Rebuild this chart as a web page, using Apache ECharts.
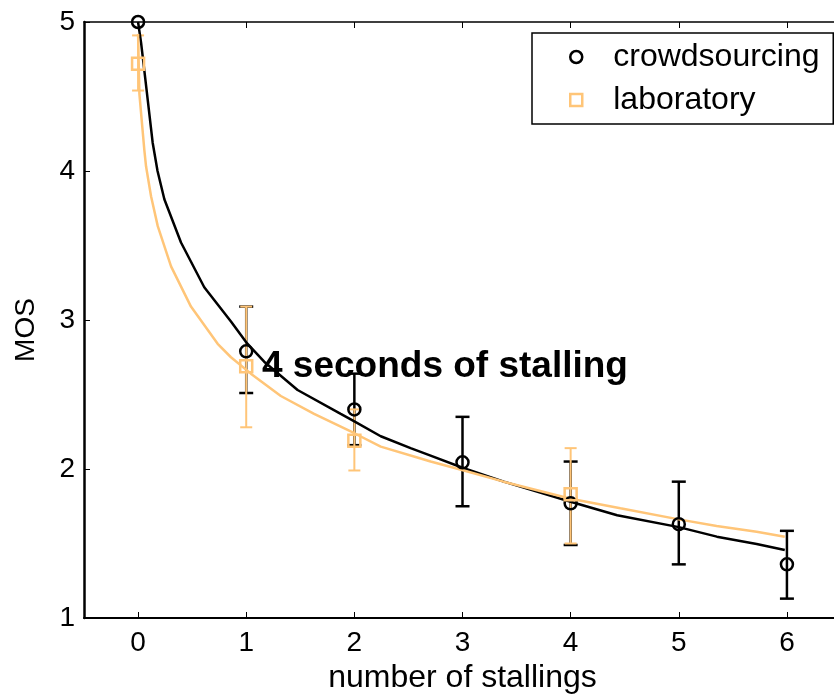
<!DOCTYPE html>
<html>
<head>
<meta charset="utf-8">
<script src="https://cdn.jsdelivr.net/npm/echarts@6/dist/echarts.min.js"></script>
<style>
  html, body { margin: 0; padding: 0; background: #fff; }
  #chart { width: 834px; height: 696px; }
</style>
</head>
<body>
<div id="chart"></div>
<script>
// Number of stallings (x positions of the measured points)
const stallings = [0, 1, 2, 3, 4, 5, 6];
const xTicks = [0, 1, 2, 3, 4, 5, 6];
const yTicks = [1, 2, 3, 4, 5];

// Crowdsourcing MOS with confidence interval bounds
const crowdMos   = [5.0, 2.79, 2.40, 2.045, 1.77, 1.63, 1.36];
const crowdLower = [null, 2.51, 2.16, 1.75, 1.49, 1.36, 1.13];
const crowdUpper = [null, 3.09, 2.64, 2.35, 2.05, 1.915, 1.585];

// Laboratory MOS (tested at 0, 1, 2 and 4 stallings)
const labX     = [0, 1, 2, 4];
const labMos   = [4.72, 2.69, 2.19, 1.83];
const labLower = [4.54, 2.28, 1.99, 1.50];
const labUpper = [4.91, 3.09, 2.40, 2.14];

// Fitted curves, [stallings, MOS]
const crowdFit = [
  [0, 5.0], [0.028, 4.86], [0.065, 4.63], [0.135, 4.19], [0.18, 4.0],
  [0.243, 3.81], [0.397, 3.52], [0.612, 3.22], [0.859, 2.99], [1.0, 2.85],
  [1.166, 2.72], [1.475, 2.53], [1.874, 2.37], [2.0, 2.32], [2.244, 2.22],
  [2.52, 2.14], [2.705, 2.09], [3.013, 2.005], [3.382, 1.915], [4.0, 1.78],
  [4.43, 1.69], [5.0, 1.61], [5.352, 1.546], [5.72, 1.497], [5.98, 1.456]
];
const labFit = [
  [0, 4.92], [0.012, 4.52], [0.058, 4.14], [0.074, 4.03], [0.12, 3.83],
  [0.182, 3.63], [0.305, 3.36], [0.489, 3.09], [0.736, 2.84], [0.859, 2.75],
  [1.043, 2.64], [1.32, 2.49], [1.628, 2.37], [2.0, 2.24], [2.244, 2.15],
  [2.613, 2.07], [2.705, 2.05], [3.013, 1.99], [3.38, 1.915], [4.0, 1.80],
  [4.46, 1.736], [5.0, 1.662], [5.35, 1.617], [5.72, 1.579], [5.98, 1.546]
];

const BLACK = '#000000';
const ORANGE = '#ffc578';
const FONT = 'Liberation Sans, Arial, sans-serif';
const SQUARE_ICON = 'path://M0,0L10,0L10,10L0,10Z';

function errorBarData(xs, lo, hi) {
  const out = [];
  xs.forEach((x, i) => {
    if (lo[i] != null && hi[i] != null) out.push([x, lo[i], hi[i]]);
  });
  return out;
}

function errorBarRenderer(color, capHalf, width) {
  return function (params, api) {
    const x = api.value(0);
    const lo = api.coord([x, api.value(1)]);
    const hi = api.coord([x, api.value(2)]);
    const style = { stroke: color, lineWidth: width, fill: null };
    return {
      type: 'group',
      children: [
        { type: 'line', shape: { x1: lo[0], y1: lo[1], x2: hi[0], y2: hi[1] }, style },
        { type: 'line', shape: { x1: lo[0] - capHalf, y1: lo[1], x2: lo[0] + capHalf, y2: lo[1] }, style },
        { type: 'line', shape: { x1: hi[0] - capHalf, y1: hi[1], x2: hi[0] + capHalf, y2: hi[1] }, style }
      ]
    };
  };
}

const chart = echarts.init(document.getElementById('chart'), null, { renderer: 'canvas' });

const axisText = { color: BLACK, fontFamily: FONT, fontSize: 28 };

chart.setOption({
  animation: false,
  backgroundColor: '#fff',
  grid: { left: 84, top: 22, right: -7, bottom: 78, containLabel: false, outerBoundsMode: 'none' },
  xAxis: [
    {
      type: 'value', min: -0.5, max: 6.5, position: 'bottom',
      name: 'number of stallings', nameLocation: 'middle', nameGap: 44,
      nameTextStyle: { color: BLACK, fontFamily: FONT, fontSize: 32 },
      axisLine: { onZero: false, lineStyle: { color: BLACK, width: 2 } },
      axisTick: { inside: true, length: 6, customValues: xTicks, lineStyle: { color: BLACK, width: 1 } },
      axisLabel: Object.assign({ margin: 11, customValues: xTicks }, axisText),
      splitLine: { show: false }
    },
    {
      type: 'value', min: -0.5, max: 6.5, position: 'top',
      axisLine: { onZero: false, lineStyle: { color: BLACK, width: 1.5 } },
      axisTick: { inside: true, length: 6, customValues: xTicks, lineStyle: { color: BLACK, width: 1 } },
      axisLabel: { show: false },
      splitLine: { show: false }
    }
  ],
  yAxis: [
    {
      type: 'value', min: 1, max: 5, interval: 1, position: 'left',
      name: 'MOS', nameLocation: 'middle', nameGap: 44, nameRotate: 90,
      nameTextStyle: { color: BLACK, fontFamily: FONT, fontSize: 28, padding: [0, 20, 0, 0] },
      axisLine: { onZero: false, lineStyle: { color: BLACK, width: 2.5 } },
      axisTick: { inside: true, length: 6, lineStyle: { color: BLACK, width: 1 } },
      axisLabel: Object.assign({ margin: 9, formatter: v => (yTicks.includes(v) ? String(v) : '') }, axisText),
      splitLine: { show: false }
    }
  ],
  legend: {
    left: 532, top: 33,
    orient: 'vertical',
    backgroundColor: '#fff',
    borderColor: BLACK, borderWidth: 1.5, borderRadius: 0,
    padding: [7, 10, 7, 37],
    itemWidth: 12, itemHeight: 12, itemGap: 9,
    textStyle: { color: BLACK, fontFamily: FONT, fontSize: 32, lineHeight: 34, width: 210, padding: [0, 0, 0, 26] },
    data: [
      { name: 'crowdsourcing', icon: 'circle', itemStyle: { color: 'transparent', borderColor: BLACK, borderWidth: 2.5, opacity: 1 } },
      { name: 'laboratory', icon: SQUARE_ICON, itemStyle: { color: 'transparent', borderColor: ORANGE, borderWidth: 2.5, opacity: 1 } }
    ]
  },
  graphic: [
    {
      type: 'text', left: 262, top: 348, z: 50,
      style: { text: '4 seconds of stalling', fill: BLACK, font: 'bold 37px ' + FONT }
    }
  ],
  series: [
    {
      name: 'crowdsourcing interval', type: 'custom', z: 2,
      renderItem: errorBarRenderer(BLACK, 7, 2.5),
      data: errorBarData(stallings, crowdLower, crowdUpper),
      encode: { x: 0, y: [1, 2] }, silent: true
    },
    {
      name: 'laboratory interval', type: 'custom', z: 3,
      renderItem: errorBarRenderer(ORANGE, 6, 2),
      data: errorBarData(labX, labLower, labUpper),
      encode: { x: 0, y: [1, 2] }, silent: true
    },
    {
      name: 'crowdsourcing fit', type: 'line', z: 4, data: crowdFit,
      showSymbol: false, symbol: 'none', smooth: false,
      lineStyle: { color: BLACK, width: 2.5 }
    },
    {
      name: 'laboratory fit', type: 'line', z: 5, data: labFit,
      showSymbol: false, symbol: 'none', smooth: false,
      lineStyle: { color: ORANGE, width: 2.5 }
    },
    {
      name: 'crowdsourcing', type: 'scatter', z: 6,
      data: stallings.map((x, i) => [x, crowdMos[i]]),
      symbol: 'circle', symbolSize: 12,
      itemStyle: { color: 'transparent', borderColor: BLACK, borderWidth: 2.5, opacity: 1 }
    },
    {
      name: 'laboratory', type: 'scatter', z: 7,
      data: labX.map((x, i) => [x, labMos[i]]),
      symbol: 'rect', symbolSize: 12,
      itemStyle: { color: 'transparent', borderColor: ORANGE, borderWidth: 2.5, opacity: 1 }
    }
  ]
});
</script>
</body>
</html>
